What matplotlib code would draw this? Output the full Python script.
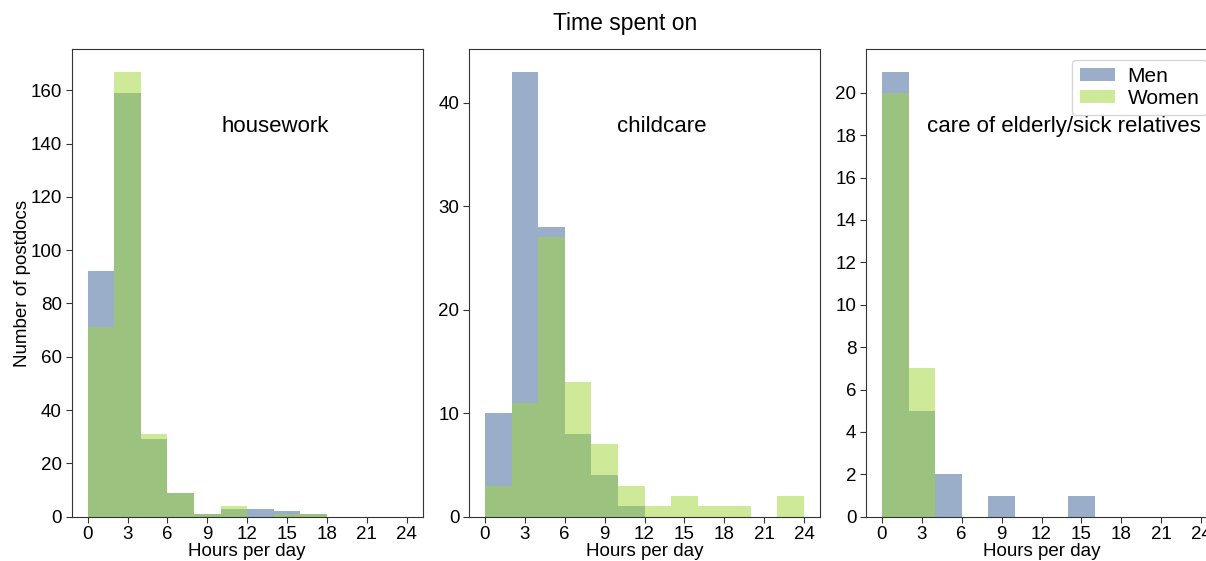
import numpy as np
from matplotlib import pyplot as plt

plt.rcParams['font.family'] = ['Liberation Sans', 'DejaVu Sans']

bin_edges = np.arange(0, 26, 2)
hours_ticks = [0, 3, 6, 9, 12, 15, 18, 21, 24]

# counts per 2-hour bin (0-2, 2-4, ..., 22-24)
housework_men = [92, 159, 29, 9, 1, 3, 3, 2, 1, 0, 0, 0]
housework_women = [71, 167, 31, 9, 1, 4, 0, 1, 1, 0, 0, 0]
childcare_men = [10, 43, 28, 8, 4, 1, 0, 0, 0, 0, 0, 0]
childcare_women = [3, 11, 27, 13, 7, 3, 1, 2, 1, 1, 0, 2]
elderly_men = [21, 5, 2, 0, 1, 0, 0, 1, 0, 0, 0, 0]
elderly_women = [20, 7, 0, 0, 0, 0, 0, 0, 0, 0, 0, 0]

housework_yticks = [0, 20, 40, 60, 80, 100, 120, 140, 160]
childcare_yticks = [0, 10, 20, 30, 40]
elderly_yticks = [0, 2, 4, 6, 8, 10, 12, 14, 16, 18, 20]

panels = [
    ('housework', housework_men, housework_women, 0.58, housework_yticks),
    ('childcare', childcare_men, childcare_women, 0.55, childcare_yticks),
    ('care of elderly/sick relatives', elderly_men, elderly_women, 0.565, elderly_yticks),
]

men_color = '#375e97'
women_color = '#9fd735'

fig = plt.figure(figsize=(12.06, 5.61), dpi=100)
W, H = 1206.0, 561.0
lefts = [71.7, 469, 866]
axes = []
for left in lefts:
    axes.append(fig.add_axes([left / W, 1 - 516.7 / H, 351 / W, 467.4 / H]))

centers = (bin_edges[:-1] + bin_edges[1:]) / 2
for ax, (name, men, women, tx, yticks) in zip(axes, panels):
    ax.hist(centers, bins=bin_edges, weights=men, color=men_color, alpha=0.5, label='Men')
    ax.hist(centers, bins=bin_edges, weights=women, color=women_color, alpha=0.5, label='Women')
    ax.set_xticks(hours_ticks)
    ax.set_yticks(yticks)
    ax.set_xlabel('Hours per day', fontsize=13.5, labelpad=0)
    ax.tick_params(labelsize=13.5, length=4, pad=3, color='#333333')
    for sp in ax.spines.values():
        sp.set_color('#333333')
    ax.text(tx, 0.834, name, transform=ax.transAxes, ha='center', va='center', fontsize=16)

axes[0].set_ylabel('Number of postdocs', fontsize=13.5, labelpad=0)
axes[2].legend(loc='upper right', fontsize=15, handlelength=1.7, handleheight=0.55,
               borderpad=0.35, labelspacing=0.15, handletextpad=0.6, framealpha=0.8)

fig.text(0.518, 0.958, 'Time spent on', ha='center', va='center', fontsize=16.5)

fig.savefig('out.png', dpi=100)
